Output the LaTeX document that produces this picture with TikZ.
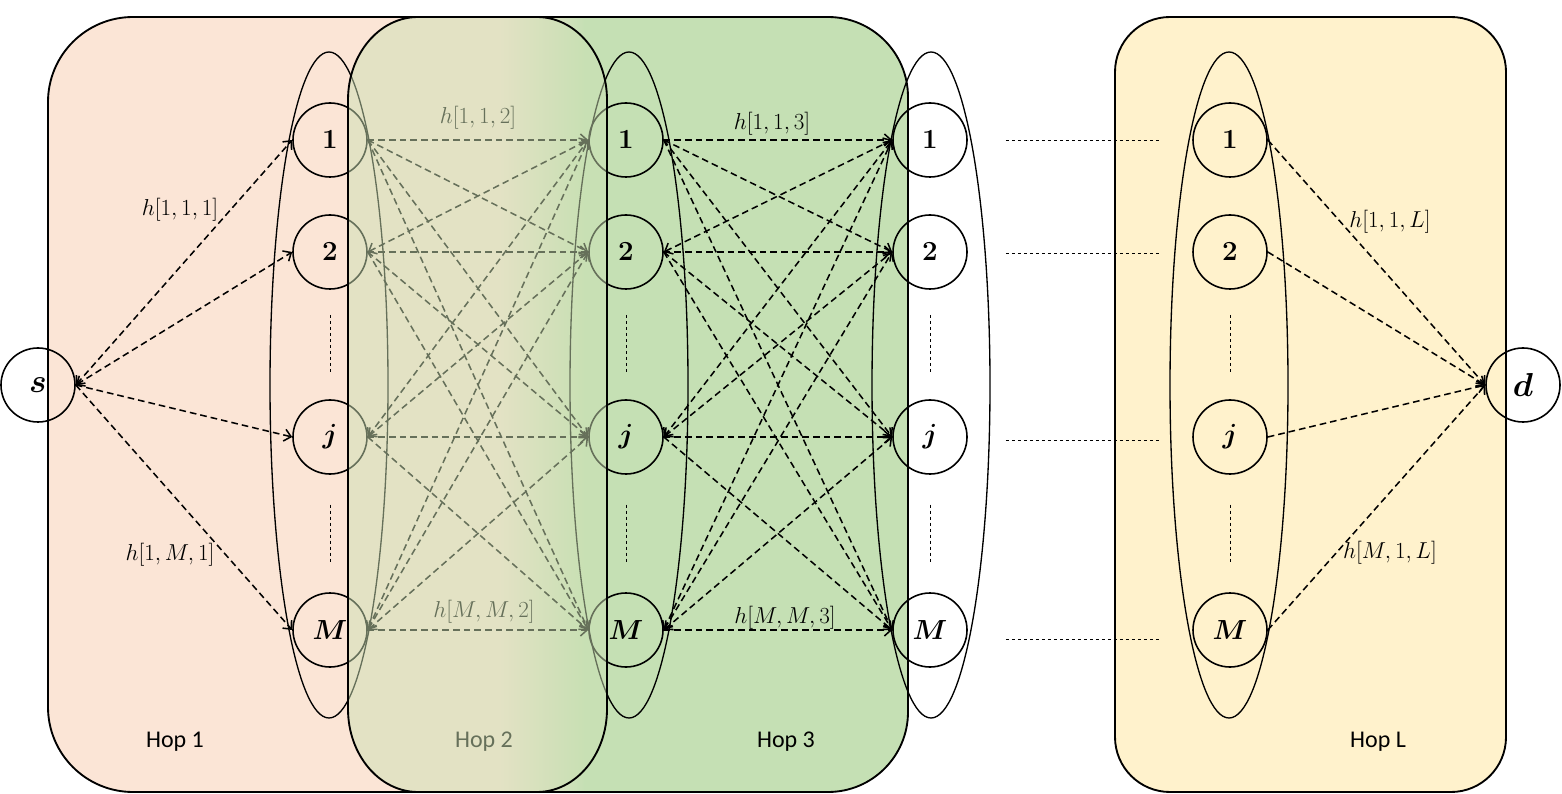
\documentclass[tikz,border=0pt]{standalone}
\usepackage{fontspec}
\usepackage{amsmath}
\usepackage{bm}
\newfontfamily\hopfont{Carlito}
\usetikzlibrary{arrows.meta,calc}
\definecolor{hoppink}{RGB}{251,229,214}
\definecolor{hopgreen}{RGB}{197,224,180}
\definecolor{hopyellow}{RGB}{255,242,204}
\definecolor{hopveil}{RGB}{204,224,180}
\begin{document}
\begin{tikzpicture}[x=0.75pt,y=0.75pt,
  box/.style={draw=black,line width=1.4pt},
  nd/.style={circle,draw=black,line width=1.2pt,minimum size=55.5pt,inner sep=0pt,font=\fontsize{20}{22}\selectfont},
  sdnode/.style={nd,font=\fontsize{23}{25}\selectfont},
  grp/.style={draw=black,line width=1pt},
  link/.style={line width=1.15pt,dash pattern=on 5pt off 3pt},
  onehead/.style={-{Straight Barb[length=5pt,width=9pt]}},
  twohead/.style={{Straight Barb[length=5pt,width=9pt]}-{Straight Barb[length=5pt,width=9pt]}},
  minor/.style={line width=0.6pt,dash pattern=on 2.5pt off 2pt},
  lab/.style={font=\fontsize{16}{18}\selectfont,inner sep=1pt},
  hoplab/.style={font=\hopfont\fontsize{18}{20}\selectfont}
]
\useasboundingbox (0,0) rectangle (1562,793);

% Hop 1 box
\draw[box,fill=hoppink,rounded corners=63.75pt] (48,1) rectangle (612,776);
% Hop 3 box (soft transition on its left, hidden under Hop 2)
\shade[left color=hoppink,right color=hopgreen,shading angle=90] (500,1) rectangle (585,776);
\fill[hopgreen] (584,1) -- (584,776) -- (828,776) arc[start angle=90,end angle=0,radius=60pt]
  -- (908,81) arc[start angle=0,end angle=-90,radius=60pt] -- cycle;
\draw[box] (500,776) -- (828,776) arc[start angle=90,end angle=0,radius=60pt]
  -- (908,81) arc[start angle=0,end angle=-90,radius=60pt] -- (500,1);
% Hop L box
\draw[box,fill=hopyellow,rounded corners=41.25pt] (1115,1) rectangle (1506,776);

% group ellipses
\foreach \ex in {329,629,931,1229}
  \draw[grp] (\ex,408) ellipse [x radius=44.25pt,y radius=249.75pt];

% nodes
\node[sdnode] (s) at (38,408) {$\bm{s}$};
\node[sdnode] (d) at (1523,408) {$\bm{d}$};
\foreach \k/\x in {1/330,2/626,3/930,L/1230} {
  \node[nd] (c\k-1) at (\x,653) {$\bm{1}$};
  \node[nd] (c\k-2) at (\x,541) {$\bm{2}$};
  \node[nd] (c\k-j) at (\x,356) {$\bm{j}$};
  \node[nd] (c\k-M) at (\x,163) {$\bm{M}$};
  \draw[minor] ($(c\k-2.center)!0.34!(c\k-j.center)$) -- ($(c\k-2.center)!0.66!(c\k-j.center)$);
  \draw[minor] ($(c\k-j.center)!0.35!(c\k-M.center)$) -- ($(c\k-j.center)!0.66!(c\k-M.center)$);
}

% dashed continuation lines between hop 3 and hop L
\foreach \r/\dy in {1/0,2/-1,j/-3,M/-9} {
  \coordinate (g\r a) at ($(c3-\r.east)+(38,\dy)$);
  \coordinate (g\r b) at ($(cL-\r.west)+(-33,\dy)$);
  \draw[minor] (g\r a) -- (g\r b);
}

% hop 1 links
\draw[link,twohead] (s.east) -- (c1-1.west);
\draw[link,twohead] (s.east) -- (c1-2.west);
\draw[link,onehead] (s.east) -- (c1-j.west);
\draw[link,onehead] (s.east) -- (c1-M.west);

% hop 2 and hop 3 links
\foreach \p/\q in {1/2,2/3} {
  \foreach \a/\ia in {1/1,2/2,j/3,M/4} {
    \foreach \b/\ib in {1/1,2/2,j/3,M/4} {
      \ifnum\ia>\ib
        \draw[link,twohead] (c\p-\a.east) -- (c\q-\b.west);
      \else
        \draw[link,onehead] (c\p-\a.east) -- (c\q-\b.west);
      \fi
    }
  }
}

% hop L links
\foreach \a in {1,2,j,M}
  \draw[link,onehead] (cL-\a.east) -- (d.west);

% labels
\node[lab] (l111) at (180,583) {$h[1,1,1]$};
\node[lab] (l1M1) at (170,238) {$h[1,M,1]$};
\node[lab] (l112) at (478,675) {$h[1,1,2]$};
\node[lab] (lMM2) at (484,181) {$h[M,M,2]$};
\node[lab] (l113) at (772,669) {$h[1,1,3]$};
\node[lab] (lMM3) at (785,175) {$h[M,M,3]$};
\node[lab] (l11L) at (1390,571) {$h[1,1,L]$};
\node[lab] (lM1L) at (1390,240) {$h[M,1,L]$};

\node[hoplab] (hop1) at (175,51) {Hop 1};
\node[hoplab] (hop2) at (484,51) {Hop 2};
\node[hoplab] (hop3) at (786,51) {Hop 3};
\node[hoplab] (hopL) at (1378,51) {Hop L};

% Hop 2 translucent box on top
\path[draw=black,line width=1.4pt,fill=hopveil,fill opacity=0.5]
  (348,693) arc[start angle=180,end angle=90,x radius=52.5pt,y radius=62.25pt]
  -- (537,776) arc[start angle=90,end angle=0,x radius=52.5pt,y radius=62.25pt]
  -- (607,84) arc[start angle=0,end angle=-90,x radius=52.5pt,y radius=62.25pt]
  -- (418,1) arc[start angle=-90,end angle=-180,x radius=52.5pt,y radius=62.25pt]
  -- cycle;
\end{tikzpicture}
\end{document}
